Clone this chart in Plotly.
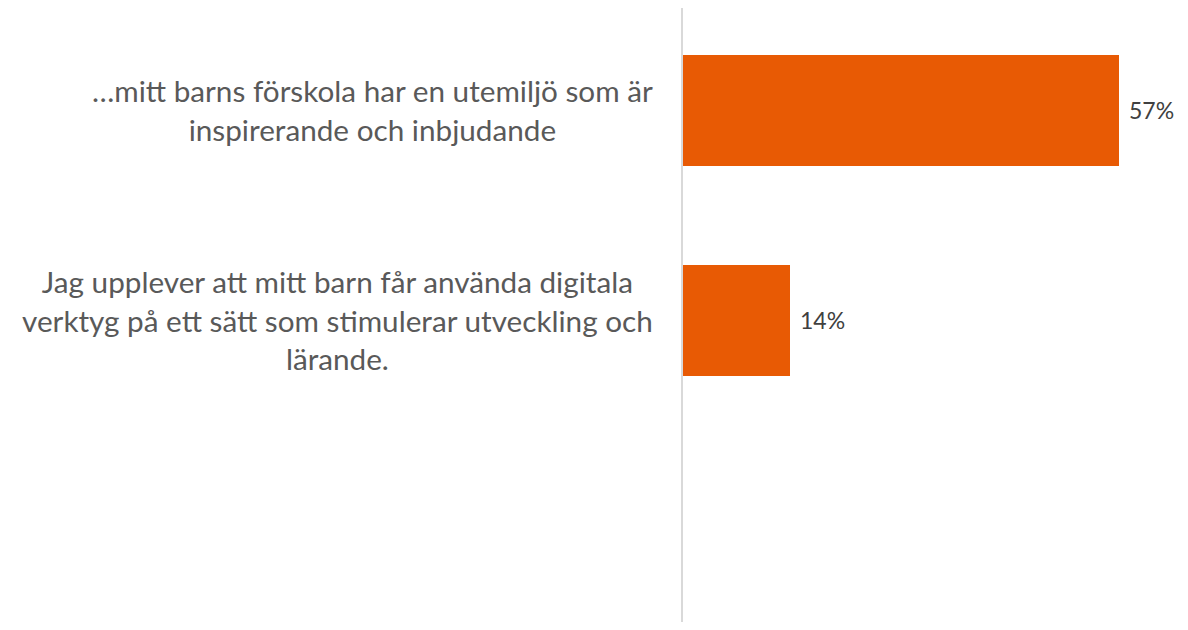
import plotly.graph_objects as go

categories = [
    "…mitt barns förskola har en utemiljö som är<br>inspirerande och inbjudande",
    "Jag upplever att mitt barn får använda digitala<br>verktyg på ett sätt som stimulerar utveckling och<br>lärande.",
]
values = [0.57, 0.14]
value_labels = ["57%", "14%"]
positions = [0, 1]

BAR = "#E85A04"
FONT = "Lato"

fig = go.Figure()
fig.add_trace(go.Bar(
    x=values, y=positions, orientation="h",
    marker=dict(color=BAR, line=dict(width=0)),
    width=0.53, hoverinfo="skip",
))

for pos, cat in zip(positions, categories):
    fig.add_annotation(
        x=0, y=pos, xref="x", yref="y", text=cat, showarrow=False,
        xanchor="right", yanchor="middle", align="center", xshift=-28,
        font=dict(family=FONT, size=29.7, color="#595959"),
    )

for pos, val, lab in zip(positions, values, value_labels):
    fig.add_annotation(
        x=val, y=pos, xref="x", yref="y", text=lab, showarrow=False,
        xanchor="left", yanchor="middle", xshift=8,
        font=dict(family=FONT, size=23, color="#404040"),
    )

fig.update_layout(
    width=1172, height=614,
    margin=dict(l=675, r=0, t=0, b=0),
    paper_bgcolor="white", plot_bgcolor="white",
    showlegend=False, bargap=0,
    xaxis=dict(range=[0, 0.65], showgrid=False, zeroline=False,
               showticklabels=False, showline=False, fixedrange=True),
    yaxis=dict(range=[2.436, -0.488], showgrid=False, zeroline=False,
               showticklabels=False, showline=True, linecolor="#D9D9D9",
               linewidth=1.5, fixedrange=True),
)

fig.write_html("out.html")
